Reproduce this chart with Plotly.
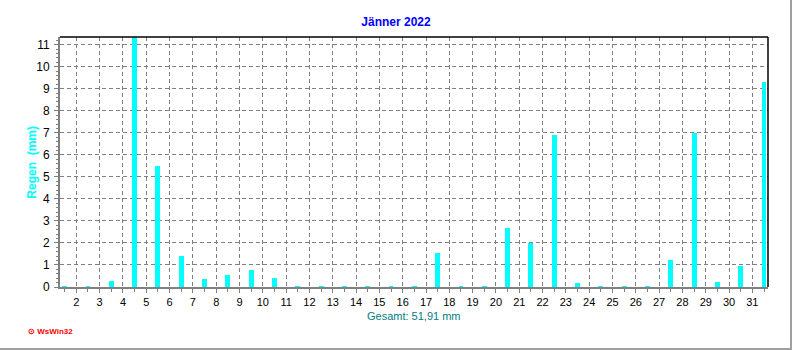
import plotly.graph_objects as go

days = list(range(1, 32))
rain_mm = [0.03, 0.03, 0.27, 11.4, 5.5, 1.39, 0.35, 0.53, 0.76, 0.4,
           0.03, 0.03, 0.03, 0.03, 0.03, 0.03, 1.55, 0.03, 0.03, 2.67,
           2.0, 6.9, 0.17, 0.03, 0.03, 0.03, 1.21, 7.0, 0.21, 0.94, 9.32]
tick_days = list(range(2, 32))
title_text = "Jänner 2022"
ytitle_text = "Regen  (mm)"
xtitle_text = "Gesamt: 51,91 mm"
logo_text = "⊙ WsWin32"

W, H = 792, 350
L, R, T, B = 60, 24, 37, 63
pw, ph = W - L - R, H - T - B

positions = [d + 0.5 for d in days]

fig = go.Figure()
fig.add_trace(go.Bar(x=positions, y=rain_mm, width=0.21,
                     marker=dict(color="#00FFFF", line=dict(width=0)),
                     hoverinfo="skip"))

font_family = "Liberation Sans, Arial, sans-serif"

fig.update_layout(
    width=W, height=H,
    margin=dict(l=L, r=R, t=T, b=B, pad=0),
    paper_bgcolor="white", plot_bgcolor="white",
    showlegend=False,
    font=dict(family=font_family, size=11, color="black"),
    title=dict(text="<b>" + title_text + "</b>", x=0.5, xref="container", xanchor="center",
               y=1 - 22 / H, yref="container", yanchor="middle",
               font=dict(size=12, color="#0000FF", family=font_family)),
    bargap=0,
)

grid_dash = "4px,3px"
fig.update_xaxes(
    range=[1.30, 31.67], tickmode="array", tickvals=tick_days,
    ticktext=[str(d) for d in tick_days],
    showgrid=True, gridcolor="#808080", gridwidth=1, griddash=grid_dash,
    zeroline=False,
    showline=True, linecolor="#808080", linewidth=2,
    ticks="outside", ticklen=4, tickcolor="#808080", tickwidth=1,
    minor=dict(tickvals=[d + 0.5 for d in range(1, 32)], ticks="outside", ticklen=3,
               tickcolor="#808080", showgrid=False),
    tickfont=dict(size=11, color="black"),
    fixedrange=True,
)
fig.update_yaxes(
    range=[0, 11.35], tickmode="linear", tick0=0, dtick=1,
    showgrid=True, gridcolor="#808080", gridwidth=1, griddash=grid_dash,
    zeroline=False,
    showline=True, linecolor="#808080", linewidth=2,
    ticks="outside", ticklen=4, tickcolor="#808080", tickwidth=1,
    minor=dict(dtick=0.2, ticks="outside", ticklen=2, tickcolor="#808080", showgrid=False),
    tickfont=dict(size=12, color="black"),
    ticklabelstandoff=2,
    fixedrange=True,
)

shapes = [
    dict(type="line", xref="paper", yref="paper", x0=0, x1=1, y0=1, y1=1,
         line=dict(color="black", width=1.5)),
    dict(type="line", xref="paper", yref="paper", x0=1, x1=1, y0=0, y1=1,
         line=dict(color="black", width=1.5)),
    # outer frame (right and bottom)
    dict(type="line", xref="paper", yref="paper",
         x0=(W - 1 - L) / pw, x1=(W - 1 - L) / pw, y0=(T + ph) / ph, y1=-(H - 1 - T - ph) / ph,
         line=dict(color="#A0A0A0", width=2)),
    dict(type="line", xref="paper", yref="paper",
         x0=-L / pw, x1=(W - L) / pw, y0=-(H - 1 - T - ph) / ph, y1=-(H - 1 - T - ph) / ph,
         line=dict(color="#A0A0A0", width=2)),
]
fig.update_layout(shapes=shapes)

fig.add_annotation(text="<b>" + ytitle_text + "</b>", xref="paper", yref="paper",
                   x=(31.7 - L) / pw, y=0.5, xanchor="center", yanchor="middle",
                   textangle=-90, showarrow=False,
                   font=dict(size=12, color="#00FFFF", family=font_family))
fig.add_annotation(text=xtitle_text, xref="paper", yref="paper",
                   x=0.5, y=-(316 - T - ph) / ph, xanchor="center", yanchor="middle",
                   showarrow=False, font=dict(size=11, color="#008080", family=font_family))
fig.add_annotation(text="<b>" + logo_text + "</b>", xref="paper", yref="paper",
                   x=(26 - L) / pw, y=-(331 - T - ph) / ph, xanchor="left", yanchor="middle",
                   showarrow=False, font=dict(size=8, color="#FF0000", family=font_family))

fig.write_html("out.html")
